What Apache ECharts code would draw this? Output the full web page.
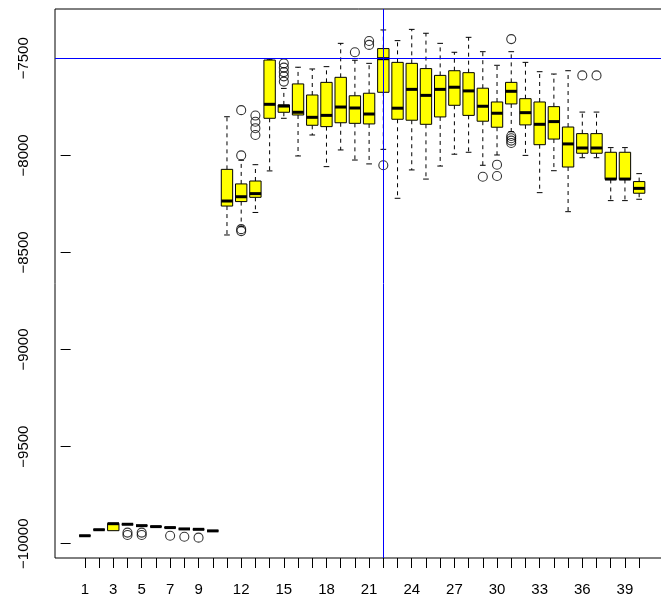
<!DOCTYPE html>
<html><head><meta charset="utf-8">
<script src="https://cdn.jsdelivr.net/npm/echarts@6/dist/echarts.min.js"></script>
<style>html,body{margin:0;padding:0;background:#fff}#c{width:661px;height:604px}</style>
</head><body><div id="c"></div>
<script>
// Box positions 1..40
const groups = [1,2,3,4,5,6,7,8,9,10,11,12,13,14,15,16,17,18,19,20,21,22,23,24,25,26,27,28,29,30,31,32,33,34,35,36,37,38,39,40];
const whiskerLow = [-9959,-9928,-9933,-9900,-9907,-9912,-9917,-9924,-9926,-9934,
  -8410,-8365,-8294,-8080,-7809,-8003,-7895,-8058,-7972,-8024,
  -8044,-7969,-8221,-8075,-8122,-8055,-7994,-7984,-8051,-7998,
  -7878,-8000,-8192,-8079,-8290,-8012,-8012,-8233,-8233,-8226];
const q1 = [-9959,-9928,-9933,-9900,-9907,-9912,-9917,-9924,-9926,-9934,
  -8261,-8238,-8216,-7809,-7778,-7792,-7845,-7852,-7832,-7835,
  -7838,-7675,-7814,-7819,-7840,-7802,-7742,-7794,-7824,-7855,
  -7735,-7843,-7945,-7916,-8060,-7989,-7989,-8124,-8124,-8195];
const medians = [-9959,-9928,-9897,-9900,-9907,-9912,-9917,-9924,-9926,-9934,
  -8235,-8213,-8197,-7737,-7746,-7778,-7804,-7794,-7751,-7756,
  -7787,-7502,-7757,-7660,-7691,-7660,-7649,-7668,-7747,-7783,
  -7670,-7780,-7840,-7826,-7941,-7962,-7962,-8122,-8122,-8170];
const q3 = [-9959,-9928,-9895,-9900,-9907,-9912,-9917,-9924,-9926,-9934,
  -8072,-8147,-8132,-7509,-7740,-7632,-7689,-7624,-7598,-7693,
  -7680,-7450,-7521,-7526,-7553,-7588,-7564,-7574,-7654,-7725,
  -7624,-7708,-7725,-7749,-7854,-7888,-7888,-7984,-7984,-8135];
const whiskerHigh = [-9959,-9928,-9895,-9900,-9907,-9912,-9917,-9924,-9926,-9934,
  -7801,-8025,-8048,-7505,-7655,-7546,-7555,-7543,-7423,-7510,
  -7526,-7354,-7409,-7351,-7371,-7423,-7469,-7392,-7466,-7536,
  -7466,-7521,-7569,-7581,-7564,-7777,-7777,-7960,-7960,-8094];
// outliers: group index and value
const outlierGroup = [4,4,5,5,7,8,9,12,12,12,12,13,13,13,13,15,15,15,15,15,20,21,21,22,29,30,30,31,31,31,31,31,36,37];
const outlierValue = [-9943,-9955,-9943,-9955,-9959,-9964,-9969,-7767,-8000,-8380,-8390,-7795,-7827,-7860,-7895,-7526,-7548,-7571,-7593,-7620,-7469,-7411,-7431,-8051,-8110,-8048,-8106,-7401,-7900,-7912,-7924,-7936,-7588,-7588];
const xTickValues = groups;
const xLabelValues = [1,3,5,7,9,12,15,18,21,24,27,30,33,36,39];
const yTickValues = [-10000,-9500,-9000,-8500,-8000,-7500];
const refX = 22, refY = -7500;

const boxData = groups.map((g,i)=>[g, whiskerLow[i], q1[i], medians[i], q3[i], whiskerHigh[i]]);
const outData = outlierGroup.map((g,i)=>[g, outlierValue[i]]);
const fmt = v => String(v).replace('-', '\u2212');
const font = '"Liberation Sans", Arial, Helvetica, sans-serif';

const chart = echarts.init(document.getElementById('c'));
chart.setOption({
  animation: false,
  backgroundColor: '#fff',
  grid: {left: 55, top: 9, width: 614, bottom: 46, show: true, borderColor: '#000', borderWidth: 1, backgroundColor: 'transparent', containLabel: false, outerBoundsMode: 'none'},
  xAxis: {
    type: 'value', min: -1.1, max: 42.1,
    axisLine: {show: false},
    splitLine: {show: false},
    axisTick: {show: true, customValues: xTickValues, length: 10, inside: false, lineStyle: {color: '#000', width: 1}},
    axisLabel: {customValues: xLabelValues, margin: 24, color: '#000', fontSize: 15, fontFamily: font}
  },
  yAxis: {
    type: 'value', min: -10073.7, max: -7246.1,
    axisLine: {show: false},
    splitLine: {show: false},
    axisTick: {show: true, customValues: yTickValues, length: 10, inside: false, lineStyle: {color: '#000', width: 1}},
    axisLabel: {customValues: yTickValues, rotate: 90, margin: 31, align: 'center', verticalAlign: 'middle', color: '#000', fontSize: 15, fontFamily: font, formatter: fmt}
  },
  series: [
    {
      type: 'custom',
      data: boxData,
      encode: {x: 0, y: [1,2,3,4,5]},
      z: 2,
      renderItem: function(params, api){
        const x = api.value(0);
        const lo = api.value(1), a = api.value(2), m = api.value(3), b = api.value(4), hi = api.value(5);
        const xc = api.coord([x, m])[0];
        const xl = api.coord([x-0.4, m])[0], xr = api.coord([x+0.4, m])[0];
        const sl = api.coord([x-0.2, m])[0], sr = api.coord([x+0.2, m])[0];
        const yLo = api.coord([x, lo])[1], yA = api.coord([x, a])[1], yM = api.coord([x, m])[1], yB = api.coord([x, b])[1], yHi = api.coord([x, hi])[1];
        const dash = {stroke: '#000', lineWidth: 1, lineDash: [4,4]};
        const solid = {stroke: '#000', lineWidth: 1};
        const ch = [];
        if (yHi < yB - 0.5) {
          ch.push({type:'line', shape:{x1:xc,y1:yB,x2:xc,y2:yHi}, style:dash});
          ch.push({type:'line', shape:{x1:sl,y1:yHi,x2:sr,y2:yHi}, style:solid});
        }
        if (yLo > yA + 0.5) {
          ch.push({type:'line', shape:{x1:xc,y1:yA,x2:xc,y2:yLo}, style:dash});
          ch.push({type:'line', shape:{x1:sl,y1:yLo,x2:sr,y2:yLo}, style:solid});
        }
        ch.push({type:'rect', shape:{x:xl, y:yB, width:xr-xl, height:Math.max(yA-yB,0)}, style:{fill:'#FFFF00', stroke:'#000', lineWidth:1}});
        ch.push({type:'line', shape:{x1:xl,y1:yM,x2:xr,y2:yM}, style:{stroke:'#000', lineWidth:3}});
        return {type:'group', children: ch};
      }
    },
    {
      type: 'scatter',
      data: outData,
      symbol: 'circle',
      symbolSize: 9,
      z: 3,
      itemStyle: {color: 'rgba(0,0,0,0)', borderColor: '#000', borderWidth: 1.1}
    },
    {
      type: 'line',
      data: [],
      z: 5,
      markLine: {
        silent: true, symbol: ['none','none'], label: {show: false},
        lineStyle: {color: '#0000FF', width: 1, type: 'solid'},
        data: [
          {xAxis: refX, lineStyle: {color: '#0000FF', width: 1, type: 'solid'}},
          {yAxis: refY, lineStyle: {color: '#0000FF', width: 1, type: 'solid'}}
        ]
      }
    }
  ]
});
</script>
</body></html>
